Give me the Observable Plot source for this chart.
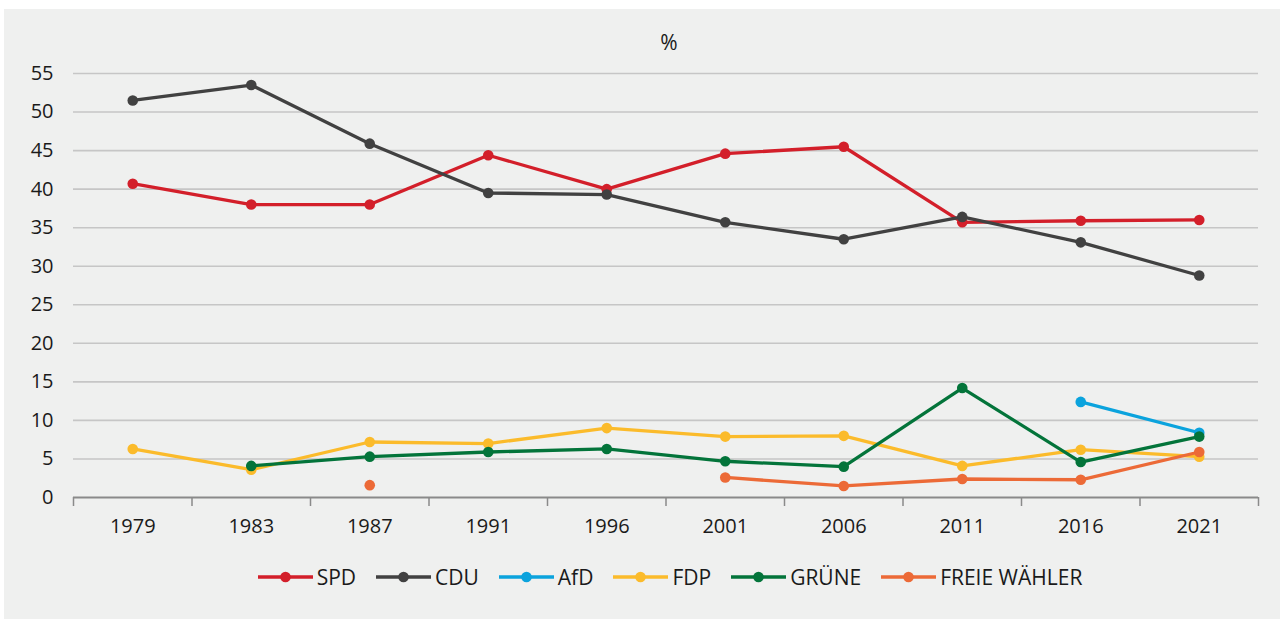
<!DOCTYPE html>
<html>
<head>
<meta charset="utf-8">
<script src="https://cdn.jsdelivr.net/npm/d3@7"></script>
<script src="https://cdn.jsdelivr.net/npm/@observablehq/plot@0.6"></script>
<style>
  html, body { margin: 0; padding: 0; background: #ffffff; width: 1280px; height: 619px; overflow: hidden; }
  #bg { position: absolute; left: 4px; top: 9px; width: 1276px; height: 610px; background: #eff0ef; }
  #chart { position: absolute; left: 0; top: 0; }
  #unit { position: absolute; left: 619px; width: 100px; top: 28px; text-align: center; font: 21px "Open Sans", sans-serif; color: #1a1a1a; }
  #legend { position: absolute; left: 0; width: 1340px; top: 563px; display: flex; justify-content: center; font: 21px "Open Sans", sans-serif; color: #1a1a1a; }
  .item { display: flex; align-items: center; margin: 0 10px; }
  .item svg { margin-right: 4px; }
</style>
</head>
<body>
<div id="bg"></div>
<div id="unit">%</div>
<div id="chart"></div>
<div id="legend"></div>
<script>
const years = ["1979","1983","1987","1991","1996","2001","2006","2011","2016","2021"];
const parties = ["SPD","CDU","AfD","FDP","GRÜNE","FREIE WÄHLER"];
const colors = ["#d31f2a","#414141","#0ba3dd","#fbbb2b","#03743a","#ec6a37"];
const SPD    = [40.7, 38.0, 38.0, 44.4, 40.0, 44.6, 45.5, 35.7, 35.9, 36.0];
const CDU    = [51.5, 53.5, 45.9, 39.5, 39.3, 35.7, 33.5, 36.4, 33.1, 28.8];
const AfD    = [null, null, null, null, null, null, null, null, 12.4, 8.4];
const FDP    = [6.3, 3.6, 7.2, 7.0, 9.0, 7.9, 8.0, 4.1, 6.2, 5.3];
const GRUENE = [null, 4.1, 5.3, 5.9, 6.3, 4.7, 4.0, 14.2, 4.6, 7.9];
const FW     = [null, null, 1.6, null, null, 2.6, 1.5, 2.4, 2.3, 5.9];
const yTicks = [0,5,10,15,20,25,30,35,40,45,50,55];

const series = [SPD, CDU, AfD, FDP, GRUENE, FW];
const idx = years.map((_, i) => i);
const bounds = years.map((_, i) => i - 0.5).concat([years.length - 0.5]);

const marks = [
  Plot.ruleY(yTicks.filter(d => d > 0), {stroke: "#c6c6c6", strokeWidth: 1.6}),
  Plot.ruleY([0], {stroke: "#8a8a8a", strokeWidth: 2.2}),
  Plot.axisY(yTicks, {tickSize: 0, tickPadding: 20, fontSize: 20, fill: "#1a1a1a", label: null}),
  Plot.axisX(bounds, {tickSize: 9, stroke: "#8a8a8a", strokeWidth: 1.5, tickFormat: () => "", label: null}),
  Plot.axisX(idx, {tickSize: 0, tickPadding: 21, fontSize: 20, fill: "#1a1a1a", tickFormat: i => years[i], label: null})
];
series.forEach((vals, k) => {
  const rows = vals.map((v, i) => ({i, v}));
  marks.push(Plot.line(rows, {x: "i", y: "v", stroke: colors[k], strokeWidth: 3.3}));
  marks.push(Plot.dot(rows.filter(d => d.v != null), {x: "i", y: "v", fill: colors[k], r: 5.3}));
});

const chart = Plot.plot({
  width: 1280, height: 550,
  marginLeft: 73, marginRight: 22, marginTop: 73, marginBottom: 53,
  style: {background: "transparent", fontFamily: "'Open Sans', sans-serif"},
  x: {type: "linear", domain: [-0.5, years.length - 0.5], axis: null, label: null},
  y: {domain: [0, 55], axis: null, label: null},
  marks
});
document.getElementById("chart").appendChild(chart);

const legend = document.getElementById("legend");
parties.forEach((p, k) => {
  const item = document.createElement("div");
  item.className = "item";
  item.innerHTML = `<svg width="55" height="12"><line x1="0" y1="6" x2="55" y2="6" stroke="${colors[k]}" stroke-width="3.3"/><circle cx="27.5" cy="6" r="5.3" fill="${colors[k]}"/></svg><span>${p}</span>`;
  legend.appendChild(item);
});
</script>
</body>
</html>
